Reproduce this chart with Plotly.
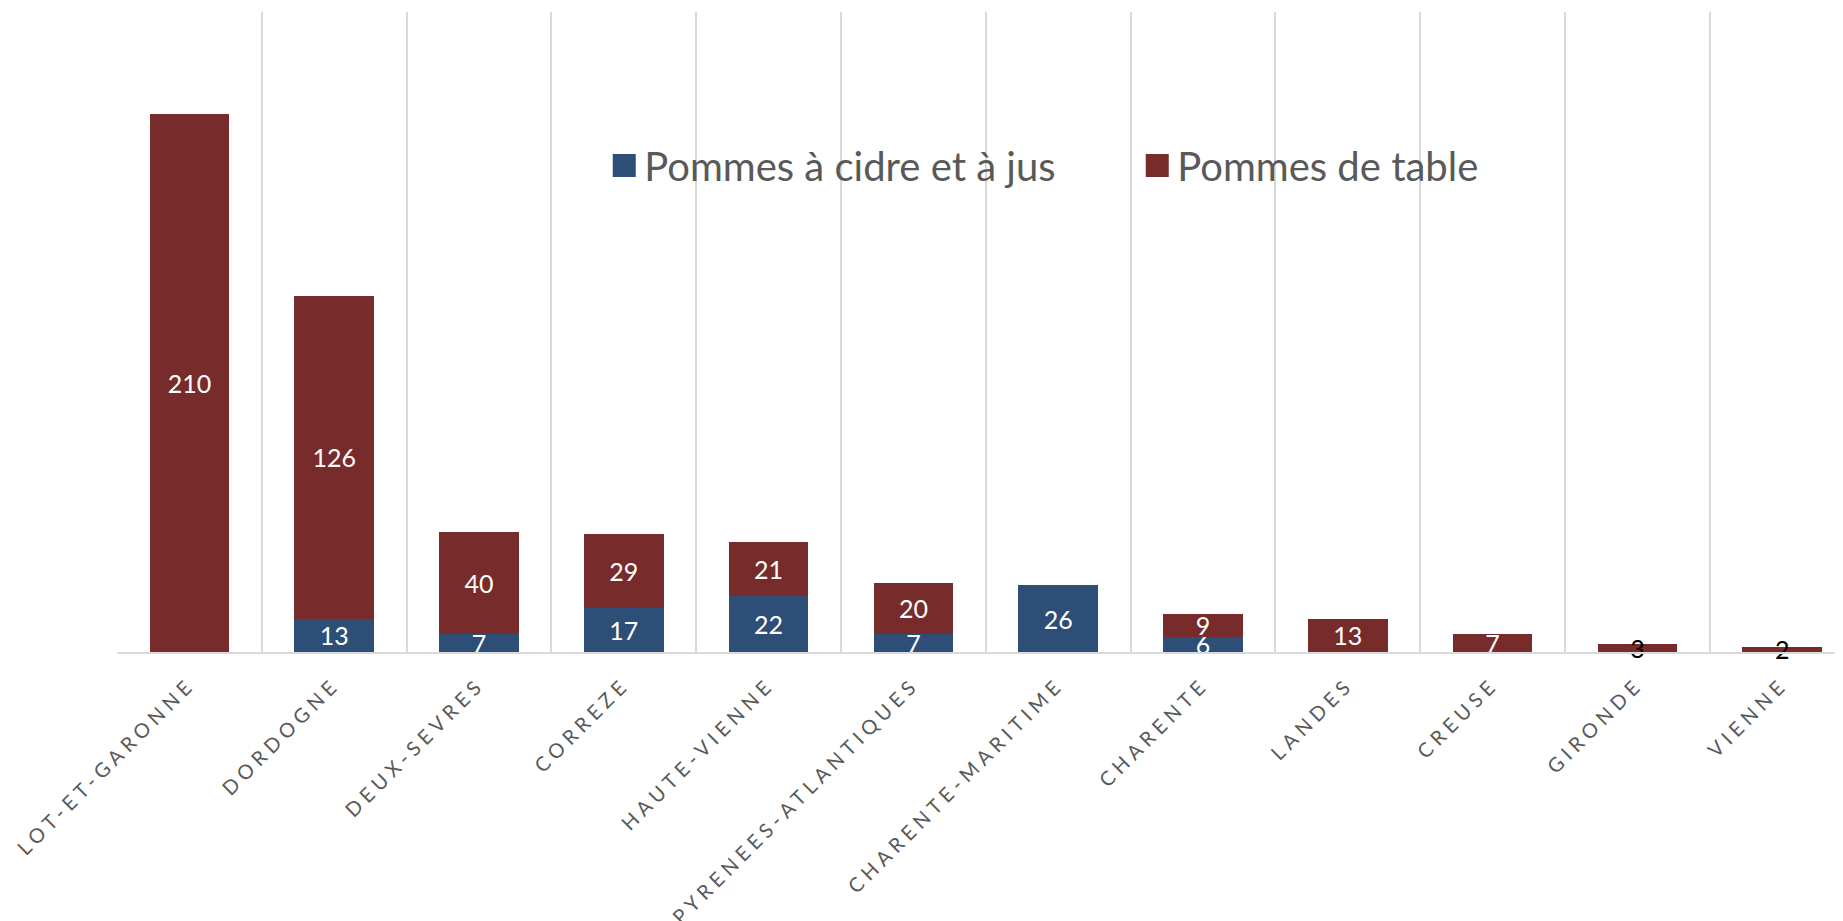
import plotly.graph_objects as go

categories = ["LOT-ET-GARONNE", "DORDOGNE", "DEUX-SEVRES", "CORREZE", "HAUTE-VIENNE",
              "PYRENEES-ATLANTIQUES", "CHARENTE-MARITIME", "CHARENTE", "LANDES",
              "CREUSE", "GIRONDE", "VIENNE"]
cidre = [None, 13, 7, 17, 22, 7, 26, 6, None, None, None, None]
table = [210, 126, 40, 29, 21, 20, None, 9, 13, 7, 3, 2]

BLUE = "#2D4E76"
RED = "#772B2B"
FONT = "Lato, Open Sans, sans-serif"

def label_colors(vals):
    return ["black" if (v is not None and v <= 3) else "white" for v in vals]

fig = go.Figure()
for vals, name, color in [(cidre, "Pommes à cidre et à jus", BLUE),
                          (table, "Pommes de table", RED)]:
    fig.add_trace(go.Bar(
        x=categories, y=vals, name=name,
        marker=dict(color=color, line=dict(width=0)),
        text=[str(v) if v is not None else "" for v in vals],
        textposition="inside", insidetextanchor="middle", constraintext="none",
        textangle=0,
        textfont=dict(family=FONT, size=25, color=label_colors(vals)),
        cliponaxis=False,
    ))

fig.update_layout(
    barmode="stack",
    bargap=0.45,
    width=1843, height=921,
    margin=dict(l=109, r=0, t=4, b=277),
    paper_bgcolor="white", plot_bgcolor="white",
    font=dict(family=FONT, color="#595959"),
    showlegend=True,
    legend=dict(orientation="h", x=0.281, y=0.76, xanchor="left", yanchor="middle",
                font=dict(size=40, color="#595959", family=FONT),
                bgcolor="rgba(0,0,0,0)", itemwidth=30, traceorder="normal",
                entrywidth=488, entrywidthmode="pixels"),
    xaxis=dict(
        type="category", range=[-0.5, 11.475], tickson="boundaries",
        showgrid=True, gridcolor="#D9D9D9", gridwidth=1.5,
        showline=True, linecolor="#D9D9D9", linewidth=2,
        ticks="", tickangle=-45, ticklabelstandoff=11,
        tickfont=dict(size=20, color="#595959", family=FONT),
    ),
    yaxis=dict(range=[0, 250], showgrid=False, showticklabels=False,
               zeroline=False, showline=False),
)

post = """
var s = document.createElement('style');
s.textContent = '.xtick text { letter-spacing: 5px; }';
document.head.appendChild(s);
var gd = document.getElementById('{plot_id}');
function fixLegend() {
  gd.querySelectorAll('.legendpoints path').forEach(function(p) {
    p.setAttribute('d', 'M11.5,11.5H-11.5V-11.5H11.5Z');
  });
}
fixLegend();
gd.on('plotly_afterplot', fixLegend);
"""

fig.write_html("out.html", post_script=post)
